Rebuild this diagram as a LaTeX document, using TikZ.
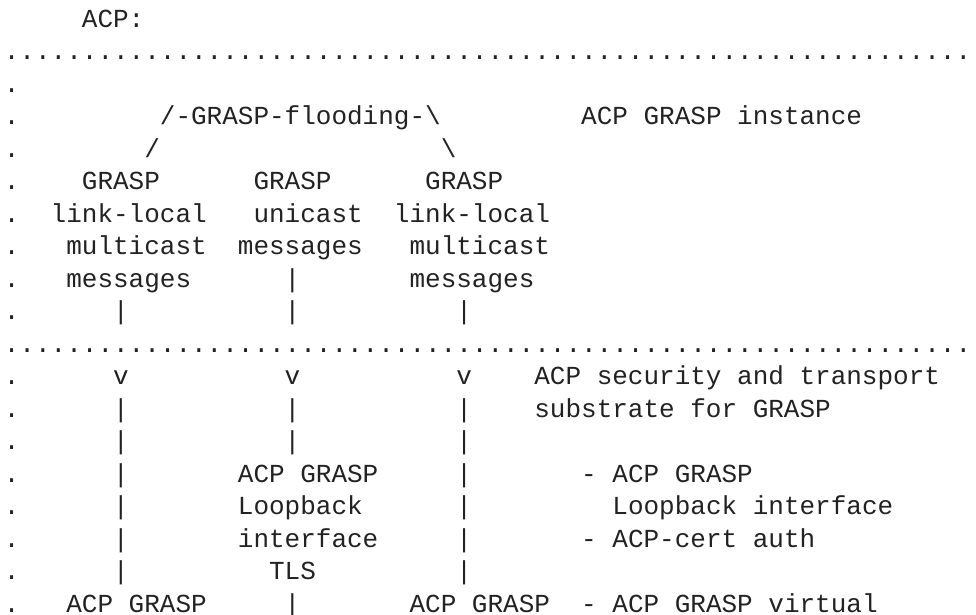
\documentclass[tikz,border=0pt]{standalone}
\usepackage{fontspec}
\newfontfamily\asciifont{Liberation Mono}
\definecolor{ink}{HTML}{222222}

\begin{document}
\begin{tikzpicture}[
  ascii/.style = {
    font = \asciifont\fontsize{26}{32.5}\selectfont,
    text = ink,
    anchor = base west,
    inner sep = 0pt,
    outer sep = 0pt,
  },
]
  \useasboundingbox (0,0) rectangle (976pt,-614pt);
  % one unit = one character cell / one text line
  \begin{scope}[x=15.6025pt, y=-32.5pt, shift={(3.9pt,-27.2pt)}]
  \node[ascii] (title) at (5,0) {ACP:};
  \node[ascii] (topdots) at (0,1) {..............................................................};
  \foreach \r in {2,...,9,11,12,...,18}
    \node[ascii] (edge\r) at (0,\r) {.};

  % GRASP instance
  \node[ascii] (flood) at (10,3) {/-GRASP-flooding-\textbackslash};
  \node[ascii] (instance) at (37,3) {ACP GRASP instance};
  \node[ascii] (slashl) at (9,4) {/};
  \node[ascii] (slashr) at (28,4) {\textbackslash};

  \node[ascii] (gl1) at (5,5) {GRASP};
  \node[ascii] (gu1) at (16,5) {GRASP};
  \node[ascii] (gr1) at (27,5) {GRASP};
  \node[ascii] (gl2) at (3,6) {link-local};
  \node[ascii] (gu2) at (16,6) {unicast};
  \node[ascii] (gr2) at (25,6) {link-local};
  \node[ascii] (gl3) at (4,7) {multicast};
  \node[ascii] (gu3) at (15,7) {messages};
  \node[ascii] (gr3) at (26,7) {multicast};
  \node[ascii] (gl4) at (4,8) {messages};
  \node[ascii] (gu4) at (18,8) {|};
  \node[ascii] (gr4) at (26,8) {messages};
  \foreach \c in {7,18,29}
    \node[ascii] (up\c) at (\c,9) {|};

  % security and transport substrate
  \node[ascii] (middots) at (0,10) {..............................................................};
  \foreach \c in {7,18,29} {
    \node[ascii] (arr\c) at (\c,11) {v};
    \node[ascii] (down\c-12) at (\c,12) {|};
    \node[ascii] (down\c-13) at (\c,13) {|};
  }
  \foreach \r in {14,...,17} {
    \node[ascii] (down7-\r) at (7,\r) {|};
    \node[ascii] (down29-\r) at (29,\r) {|};
  }
  \node[ascii] (security) at (34,11) {ACP security and transport};
  \node[ascii] (substrate) at (34,12) {substrate for GRASP};

  \node[ascii] (loop1) at (15,14) {ACP GRASP};
  \node[ascii] (loop2) at (15,15) {Loopback};
  \node[ascii] (loop3) at (15,16) {interface};
  \node[ascii] (tls) at (17,17) {TLS};
  \node[ascii] (note1) at (37,14) {- ACP GRASP};
  \node[ascii] (note2) at (39,15) {Loopback interface};
  \node[ascii] (note3) at (37,16) {- ACP-cert auth};

  \node[ascii] (virtl) at (4,18) {ACP GRASP};
  \node[ascii] (down18-18) at (18,18) {|};
  \node[ascii] (virtr) at (26,18) {ACP GRASP};
  \node[ascii] (note4) at (37,18) {- ACP GRASP virtual};
  \end{scope}
\end{tikzpicture}
\end{document}
